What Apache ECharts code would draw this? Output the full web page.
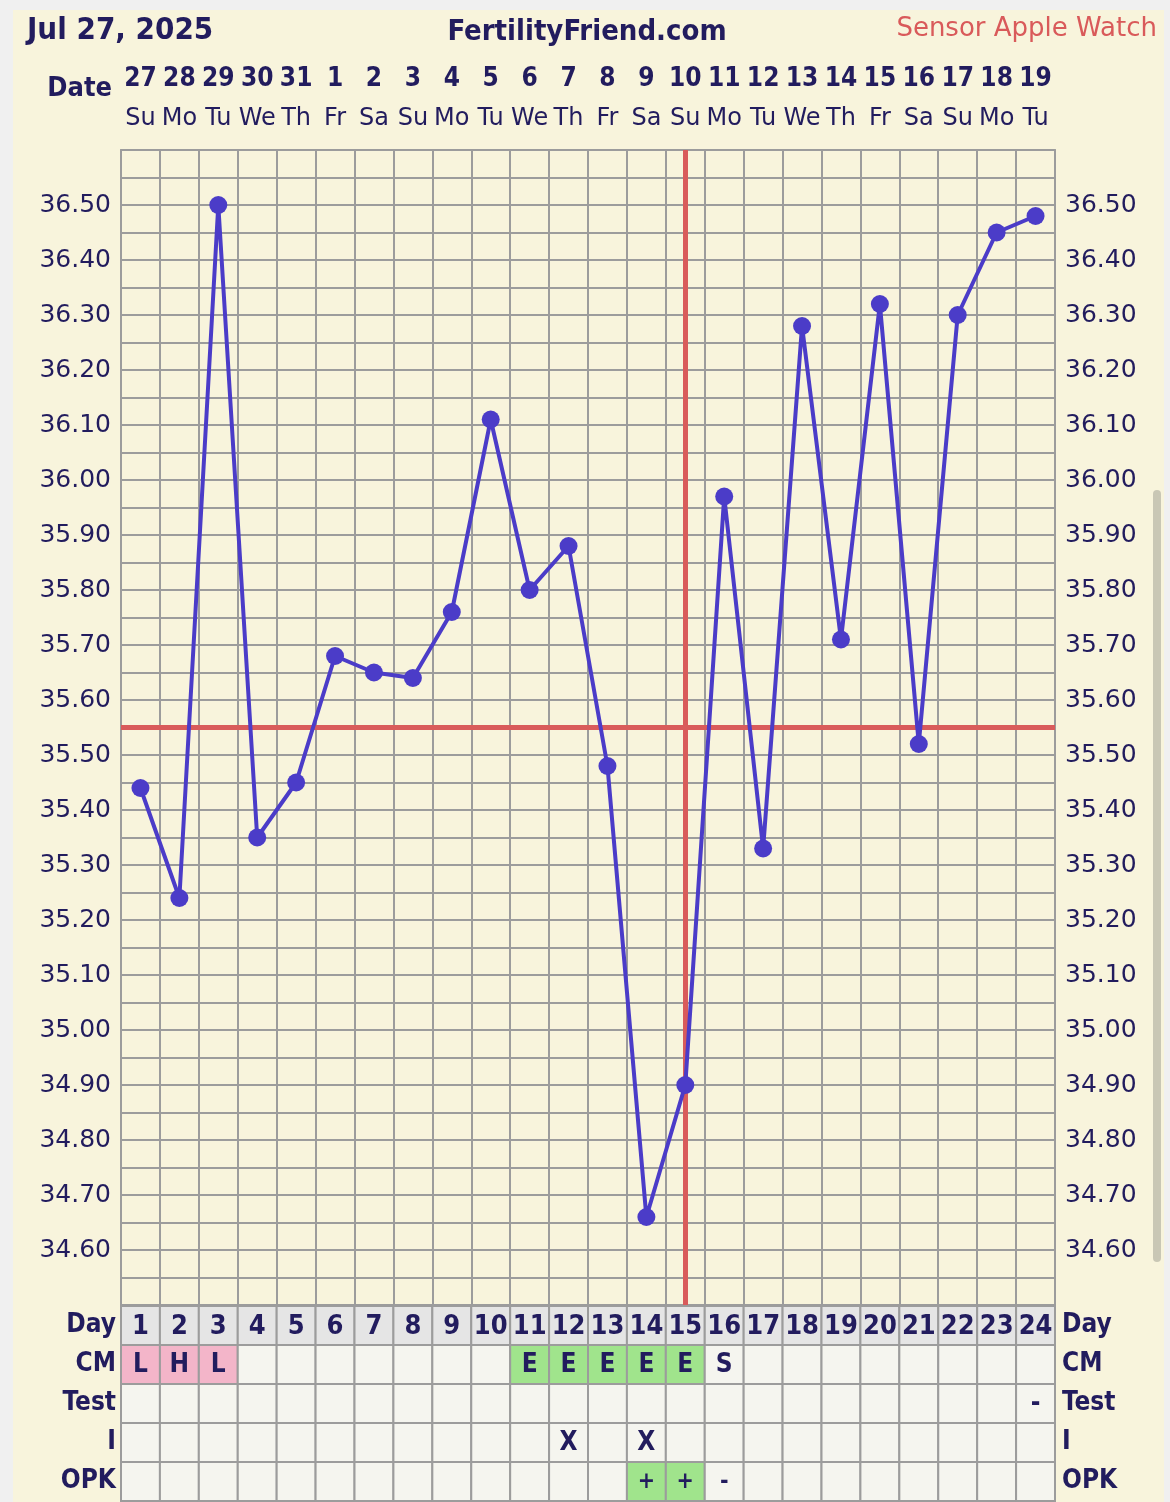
<!DOCTYPE html>
<html><head><meta charset="utf-8">
<script src="https://cdn.jsdelivr.net/npm/echarts@6/dist/echarts.min.js"></script>
<style>
html,body{margin:0;padding:0;background:#f0f0f0;width:1170px;height:1502px;overflow:hidden}
#panel{position:absolute;left:13px;top:10px;width:1151px;height:1492px;background:#f8f4dc}
#scroll{position:absolute;left:1153px;top:490px;width:8px;height:772px;border-radius:4px;background:#c9c7b5}
#chart{position:absolute;left:0;top:0;width:1170px;height:1502px}
</style></head><body>
<div id="panel"></div><div id="scroll"></div><div id="chart"></div>
<script>
const dateNums = ['27','28','29','30','31','1','2','3','4','5','6','7','8','9','10','11','12','13','14','15','16','17','18','19'];
const weekdays = ['Su','Mo','Tu','We','Th','Fr','Sa','Su','Mo','Tu','We','Th','Fr','Sa','Su','Mo','Tu','We','Th','Fr','Sa','Su','Mo','Tu'];
const cycleDays = ['1','2','3','4','5','6','7','8','9','10','11','12','13','14','15','16','17','18','19','20','21','22','23','24'];
const temps = [35.44,35.24,36.50,35.35,35.45,35.68,35.65,35.64,35.76,36.11,35.80,35.88,35.48,34.66,34.90,35.97,35.33,36.28,35.71,36.32,35.52,36.30,36.45,36.48];
const coverline = 35.55;
const ovulationDay = '15';
const rowLabels = ['Day','CM','Test','I','OPK'];
const cmRow   = ['L','H','L','','','','','','','','E','E','E','E','E','S','','','','','','','',''];
const testRow = ['','','','','','','','','','','','','','','','','','','','','','','','-'];
const iRow    = ['','','','','','','','','','','','X','','X','','','','','','','','','',''];
const opkRow  = ['','','','','','','','','','','','','','+','+','-','','','','','','','',''];

const textColor = '#221c5e';
const gridColor = '#9c9c9c';
const condBold = '"DejaVu Sans Condensed","DejaVu Sans",sans-serif';

const rows = [cycleDays, cmRow, testRow, iRow, opkRow];
function cellFill(r, t){
  if (r === 0) return '#e5e5e5';
  if (r === 1 && (t === 'L' || t === 'H')) return '#f3b5c9';
  if (r === 1 && t === 'E') return '#a0e48c';
  if (r === 4 && t === '+') return '#a0e48c';
  return '#f5f5ef';
}
const cells = [];
rows.forEach((row, r) => row.forEach((t, c) => cells.push({value:[c, r], text:t, fill:cellFill(r, t), size: r===0?27:(r===4?23:26)})));

const chart = echarts.init(document.getElementById('chart'), null, {renderer:'canvas'});
const yLabelFmt = v => { const c = Math.round(v*100); return (c % 10 === 0 && c >= 3460 && c <= 3650) ? (c/100).toFixed(2) : ''; };
const option = {
  animation:false,
  backgroundColor:'transparent',
  grid:[{left:121, top:150, width:934, height:1155},{left:121, top:1306, width:934, height:195}],
  xAxis:[
    {type:'category', gridIndex:0, data:cycleDays, position:'top', boundaryGap:true,
     axisLine:{show:true, lineStyle:{color:gridColor, width:2}}, axisTick:{show:false},
     axisLabel:{interval:0, margin:12, color:textColor,
       formatter:(v, i) => '{d|' + dateNums[i] + '}\n{w|' + weekdays[i] + '}',
       rich:{d:{fontSize:26, fontWeight:'bold', fontFamily:condBold, color:textColor, lineHeight:39},
             w:{fontSize:24, fontFamily:'DejaVu Sans', color:textColor, lineHeight:39}}},
     splitLine:{show:true, interval:0, lineStyle:{color:gridColor, width:2}}},
    {type:'category', gridIndex:1, data:cycleDays, show:false}
  ],
  yAxis:[
    {type:'value', gridIndex:0, min:34.5, max:36.6, interval:0.05, position:'left',
     axisLine:{show:true, lineStyle:{color:gridColor, width:2}}, axisTick:{show:false},
     axisLabel:{margin:10, color:textColor, fontSize:25, fontFamily:'DejaVu Sans', formatter:yLabelFmt},
     splitLine:{show:true, lineStyle:{color:gridColor, width:2}}},
    {type:'value', gridIndex:0, min:34.5, max:36.6, interval:0.05, position:'right',
     axisLine:{show:true, lineStyle:{color:gridColor, width:2}}, axisTick:{show:false},
     axisLabel:{margin:10, color:textColor, fontSize:25, fontFamily:'DejaVu Sans', formatter:yLabelFmt},
     splitLine:{show:false}},
    {type:'category', gridIndex:1, data:rowLabels, inverse:true, position:'left',
     axisLine:{show:false}, axisTick:{show:false}, splitLine:{show:false},
     axisLabel:{margin:5, color:textColor, fontSize:26, fontWeight:'bold', fontFamily:condBold}},
    {type:'category', gridIndex:1, data:rowLabels, inverse:true, position:'right',
     axisLine:{show:false}, axisTick:{show:false}, splitLine:{show:false},
     axisLabel:{margin:7, color:textColor, fontSize:26, fontWeight:'bold', fontFamily:condBold}}
  ],
  graphic:[
    {type:'text', x:27, y:31, style:{text:'Jul 27, 2025', fill:textColor, font:'bold 31px ' + condBold, align:'left', verticalAlign:'middle'}},
    {type:'text', x:587, y:32, style:{text:'FertilityFriend.com', fill:textColor, font:'bold 29px ' + condBold, align:'center', verticalAlign:'middle'}},
    {type:'text', x:1157, y:29, style:{text:'Sensor Apple Watch', fill:'#d95a5a', font:'26px "DejaVu Sans"', align:'right', verticalAlign:'middle'}},
    {type:'text', x:112, y:89, style:{text:'Date', fill:textColor, font:'bold 27px ' + condBold, align:'right', verticalAlign:'middle'}}
  ],
  series:[
    {type:'line', xAxisIndex:0, yAxisIndex:0, data:temps, z:5,
     symbol:'circle', symbolSize:18, itemStyle:{color:'#4b3cc8'},
     lineStyle:{color:'#4b3cc8', width:4},
     markLine:{silent:true, symbol:['none','none'], label:{show:false},
       lineStyle:{color:'#d95b5b', width:5, type:'solid'},
       data:[{xAxis:ovulationDay},{yAxis:coverline}]}},
    {type:'custom', xAxisIndex:1, yAxisIndex:2, data:cells, encode:{x:0, y:1},
     renderItem:(params, api) => {
       const p = api.coord([api.value(0), api.value(1)]);
       const s = api.size([1, 1]);
       const cell = cells[params.dataIndex];
       return {type:'group', children:[
         {type:'rect', shape:{x:p[0]-s[0]/2, y:p[1]-s[1]/2, width:s[0], height:s[1]},
          style:{fill:cell.fill, stroke:gridColor, lineWidth:2}},
         {type:'text', x:p[0], y:p[1]+1, style:{text:cell.text, fill:textColor, align:'center', verticalAlign:'middle',
          font:'bold ' + cell.size + 'px ' + condBold}}
       ]};
     }}
  ]
};
chart.setOption(option);
</script>
</body></html>
